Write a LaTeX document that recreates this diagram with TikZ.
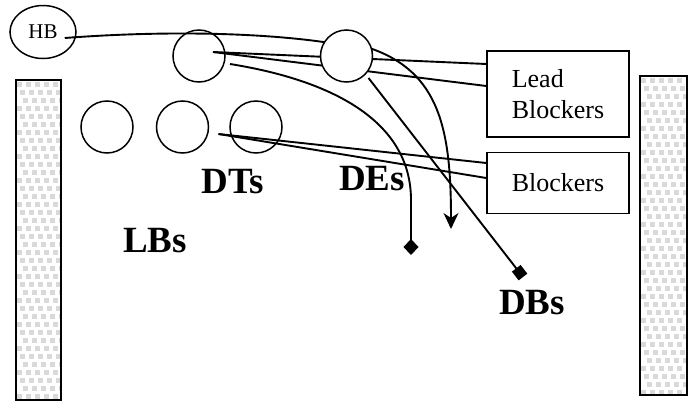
\documentclass[tikz,border=0pt]{standalone}
\usepackage{fontspec}
\setmainfont{Liberation Serif}
\usetikzlibrary{shapes.geometric, positioning, arrows.meta, backgrounds}

\begin{document}
\begin{tikzpicture}[
        x=1pt, y=-1pt,
        player/.style = {draw, circle, line width=1.5pt, minimum size=52pt, inner sep=0pt},
        carrier/.style = {draw, ellipse, line width=1.5pt, minimum width=66pt, minimum height=53pt, inner sep=0pt, font=\fontsize{21}{24}\selectfont},
        box/.style = {draw, line width=1.5pt, minimum width=142pt, align=left, font=\fontsize{26}{31}\selectfont},
        route/.style = {line width=1.9pt},
        group/.style = {font=\bfseries\fontsize{37}{40}\selectfont, anchor=base},
        wall/.style = {draw, line width=1.5pt},
        speck/.style = {fill=gray!30}
        ]
        \useasboundingbox (0,0) rectangle (694,402);

        % Walls
        \foreach \wx/\wy/\ww/\wh in {16/80/45/320, 640/76/47/319}{
            \begin{scope}
                \clip (\wx,\wy) rectangle ++(\ww,\wh);
                \foreach \r in {0,...,40}
                    \foreach \c in {0,...,5}
                        \fill[speck] ({\wx+1+\c*9+mod(\r,3)*3},{\wy+2+\r*8}) rectangle ++(5,5);
            \end{scope}
            \draw[wall] (\wx,\wy) rectangle ++(\ww,\wh);
        }

        % Players
        \node[carrier] (hb) at (43,32) {HB};
        \node[player] (lead1) at (199,56) {};
        \node[player, fill=white, right=94pt of lead1] (lead2) {};
        \node[player] (line1) at (107,127) {};
        \node[player, right=22pt of line1] (line2) {};
        \node[player, right=20pt of line2] (line3) {};

        % Boxes
        \node[box, minimum height=86pt] (lead) at (558,94) {Lead\\Blockers};
        \node[box, minimum height=61pt, below=14pt of lead] (block) {Blockers};

        % Labels
        \node[group] (dts) at (233,193) {DTs};
        \node[group] (des) at (372,190) {DEs};
        \node[group] (lbs) at (155,252) {LBs};
        \node[group] (dbs) at (532,314) {DBs};

        % Ends
        \coordinate (stop1) at (411,255);
        \coordinate (stop2) at (451,229);
        \coordinate (stop3) at (523,277);

        % Routes
        \begin{pgfonlayer}{background}
            \draw[route, -{Stealth[length=16pt, width=15pt, inset=5pt]}] ([shift={(-12,6)}]hb.east) .. controls (170,30) and (270,33) .. ([shift={(-10,-12)}]lead2.center) -- ([shift={(23,-8)}]lead2.center) .. controls (440,72) and (451,130) .. (stop2);
            \draw[route] ([shift={(14,-4)}]lead1.center) -- ([shift={(0,-30)}]lead.west);
            \draw[route] ([shift={(14,-4)}]lead1.center) -- ([shift={(0,-8)}]lead.west);
            \draw[route] ([shift={(36,7)}]line2.center) -- ([shift={(0,-20)}]block.west);
            \draw[route] ([shift={(36,7)}]line2.center) -- ([shift={(0,-5)}]block.west);
            \draw[route, -{Diamond[length=16pt, width=15pt]}] ([shift={(31,8)}]lead1.center) .. controls (330,80) and (411,120) .. (411,200) -- (stop1);
            \draw[route, -{Square[length=11pt, width=11pt]}] ([shift={(22,22)}]lead2.center) -- (stop3);
        \end{pgfonlayer}

    \end{tikzpicture}
\end{document}
